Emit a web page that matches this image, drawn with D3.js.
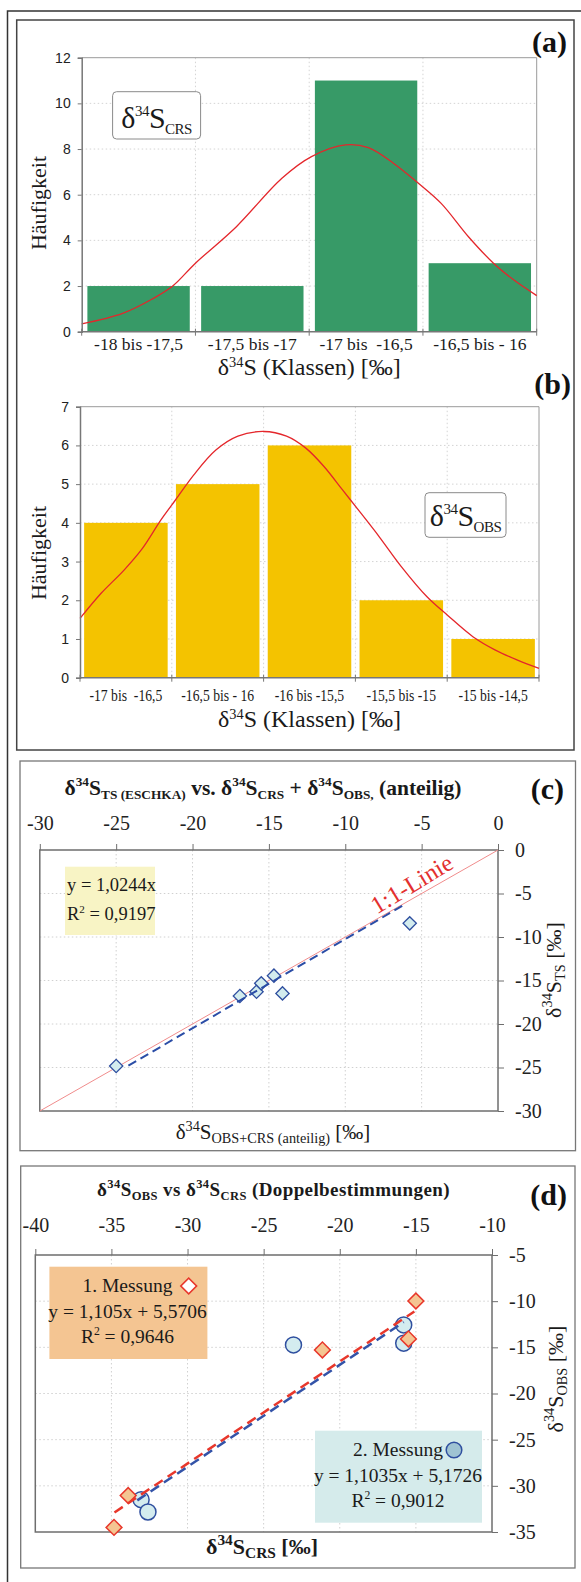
<!DOCTYPE html>
<html>
<head>
<meta charset="utf-8">
<script src="https://cdn.jsdelivr.net/npm/d3@7"></script>
<style>
  body { margin: 0; background: #fff; }
</style>
</head>
<body>
<div id="chart"></div>
<script>
// ---- data ----

// (a) δ34S CRS classes
const classesA = ["-18 bis -17,5", "-17,5 bis -17", "-17 bis  -16,5", "-16,5 bis - 16"];
const edgesA = [-18, -17.5, -17, -16.5, -16];
const countsA = [2, 2, 11, 3];
const curveAx = [-18, -17.82, -17.69, -17.6, -17.5, -17.32, -17.12, -16.99, -16.84, -16.74, -16.63, -16.52, -16.42, -16.3, -16.19, -16.1, -16.0];
const curveAy = [0.34, 0.8, 1.43, 2.0, 3.0, 4.6, 6.72, 7.67, 8.18, 8.06, 7.38, 6.5, 5.62, 4.16, 3.0, 2.26, 1.58];

// (b) δ34S OBS classes
const classesB = ["-17 bis  -16,5", "-16,5 bis - 16", "-16 bis -15,5", "-15,5 bis -15", "-15 bis -14,5"];
const edgesB = [-17, -16.5, -16, -15.5, -15, -14.5];
const countsB = [4, 5, 6, 2, 1];
const curveBx = [-17, -16.885, -16.76, -16.66, -16.56, -16.48, -16.38, -16.26, -16.14, -16.0, -15.875, -15.77, -15.67, -15.57, -15.47, -15.37, -15.25, -15.11, -15.0, -14.86, -14.74, -14.62, -14.5];
const curveBy = [1.53, 2.18, 2.78, 3.34, 4.07, 4.59, 5.24, 5.88, 6.24, 6.36, 6.24, 5.93, 5.45, 4.85, 4.25, 3.64, 2.87, 2.09, 1.62, 1.06, 0.72, 0.46, 0.24];

// (c) TS (ESCHKA) vs OBS+CRS
const ticksC = [-30, -25, -20, -15, -10, -5, 0];
const tsX = [-25.0, -16.9, -15.81, -15.5, -14.67, -14.11, -5.78];
const tsY = [-24.83, -16.78, -16.29, -15.33, -14.44, -16.48, -8.43];
const fitC = { slope: 1.0244, from: -24.2, to: -6.1 };

// (d) OBS vs CRS, double determinations
const ticksDx = [-40, -35, -30, -25, -20, -15, -10];
const ticksDy = [-35, -30, -25, -20, -15, -10, -5];
const m1X = [-15.0, -15.49, -21.14, -33.9, -34.83];
const m1Y = [-9.98, -14.09, -15.28, -31.05, -34.5];
const m2X = [-23.04, -15.8, -15.8, -33.05, -32.6];
const m2Y = [-14.74, -12.57, -14.55, -31.5, -32.83];
const fit1 = { slope: 1.105, intercept: 5.5706, from: -34.8, to: -15.1 };
const fit2 = { slope: 1.1035, intercept: 5.1726, from: -33.3, to: -15.8 };

const serif = "'Liberation Serif', 'Times New Roman', serif";
const sans = "'Liberation Sans', Arial, sans-serif";
const fmt = d => String(d);

const svg = d3.select("#chart").append("svg")
  .attr("width", 581)
  .attr("height", 1582)
  .style("display", "block");

svg.append("rect").attr("width", 581).attr("height", 1582).attr("fill", "#fff");

// text with sub/superscript parts: [text, "n" | "sup" | "sub"]
function rich(g, x, y, parts, o) {
  const size = o.size;
  const t = g.append("text")
    .attr("x", x).attr("y", y)
    .attr("font-family", serif)
    .attr("font-size", size)
    .attr("font-weight", o.weight || "normal")
    .attr("text-anchor", o.anchor || "start")
    .attr("fill", o.fill || "#1a1a1a");
  if (o.rotate) t.attr("transform", `rotate(${o.rotate},${x},${y})`);
  if (o.spacing) t.attr("letter-spacing", o.spacing);
  let shift = 0;
  parts.forEach(([s, k]) => {
    const target = k === "sup" ? -(o.rise || 0.4) * size : k === "sub" ? 0.2 * size : 0;
    const fs = k === "n" ? size : size * (o.small || 0.6);
    t.append("tspan").attr("dy", target - shift).attr("font-size", fs).text(s);
    shift = target;
  });
  return t;
}

// ---- frames ----
svg.append("path")
  .attr("d", "M7.5,1582V11H581")
  .attr("fill", "none").attr("stroke", "#333").attr("stroke-width", 1.5);
svg.append("rect").attr("x", 16.7).attr("y", 20).attr("width", 557.3).attr("height", 730)
  .attr("fill", "none").attr("stroke", "#444").attr("stroke-width", 1.5);
svg.append("rect").attr("x", 20).attr("y", 761).attr("width", 555.5).attr("height", 389.7)
  .attr("fill", "none").attr("stroke", "#777").attr("stroke-width", 1.3);
svg.append("rect").attr("x", 20.7).attr("y", 1166).attr("width", 554.3).attr("height", 402)
  .attr("fill", "none").attr("stroke", "#777").attr("stroke-width", 1.3);

// ---- histograms ----
function histogram(p) {
  const g = svg.append("g");
  const x = d3.scaleBand(p.classes, [p.left, p.right]).paddingInner(p.pad).paddingOuter(p.pad / 2);
  const xd = d3.scaleLinear(d3.extent(p.edges), [p.left, p.right]);
  const y = d3.scaleLinear([0, p.yMax], [p.bottom, p.top]);
  const yTicks = d3.range(0, p.yMax + 0.001, p.yStep);

  // dotted grid
  g.append("g").selectAll("line").data(yTicks.filter(d => d > 0 && d < p.yMax)).join("line")
    .attr("x1", p.left).attr("x2", p.right)
    .attr("y1", d => y(d)).attr("y2", d => y(d))
    .attr("stroke", "#d4d4d4").attr("stroke-dasharray", "1.5,2.5");
  g.append("g").selectAll("line").data(p.edges.slice(1, -1)).join("line")
    .attr("x1", d => xd(d)).attr("x2", d => xd(d))
    .attr("y1", p.top).attr("y2", p.bottom)
    .attr("stroke", "#d4d4d4").attr("stroke-dasharray", "1.5,2.5");

  // frame top and right
  g.append("path")
    .attr("d", `M${p.left},${p.top}H${p.right}V${p.bottom}`)
    .attr("fill", "none").attr("stroke", "#9a9a9a").attr("stroke-width", 1);

  g.append("g").selectAll("rect").data(p.counts).join("rect")
    .attr("x", (d, i) => x(p.classes[i]))
    .attr("width", x.bandwidth())
    .attr("y", d => y(d))
    .attr("height", d => y(0) - y(d))
    .attr("fill", p.color);

  const line = d3.line()
    .x(d => xd(d[0]))
    .y(d => y(d[1]))
    .curve(d3.curveCatmullRom);
  g.append("path")
    .datum(d3.zip(p.cx, p.cy))
    .attr("d", line)
    .attr("fill", "none").attr("stroke", "#e4262b").attr("stroke-width", 1.3);

  // y axis
  const ya = g.append("g")
    .attr("transform", `translate(${p.left},0)`)
    .call(d3.axisLeft(y).tickValues(yTicks).tickSize(4).tickPadding(7).tickFormat(fmt));
  ya.select(".domain").attr("stroke", "#777").attr("stroke-width", 1.5);
  ya.selectAll(".tick line").attr("stroke", "#777");
  ya.selectAll("text").attr("font-family", sans).attr("font-size", 14).attr("fill", "#222");

  // x axis: boundary ticks, class labels
  g.append("line").attr("x1", p.left).attr("x2", p.right)
    .attr("y1", p.bottom).attr("y2", p.bottom)
    .attr("stroke", "#777").attr("stroke-width", 1.5);
  g.append("g").selectAll("line").data(p.edges).join("line")
    .attr("x1", d => xd(d)).attr("x2", d => xd(d))
    .attr("y1", p.bottom - 3).attr("y2", p.bottom + 4)
    .attr("stroke", "#777");
  const labels = g.append("g").selectAll("text").data(p.classes).join("text")
    .attr("x", d => x(d) + x.bandwidth() / 2)
    .attr("y", p.labelY)
    .attr("text-anchor", "middle")
    .attr("font-family", serif)
    .attr("font-size", p.labelSize)
    .attr("fill", "#1a1a1a")
    .style("white-space", "pre")
    .text(d => d);
  if (p.labelSqueeze) {
    labels.each(function () {
      const w = this.getComputedTextLength();
      d3.select(this).attr("textLength", w * p.labelSqueeze).attr("lengthAdjust", "spacingAndGlyphs");
    });
  }

  rich(g, (p.left + p.right) / 2, p.titleY, [["δ", "n"], ["34", "sup"], ["S (Klassen) [‰]", "n"]], { size: 24, anchor: "middle", rise: 0.33 });

  g.append("text")
    .attr("transform", `translate(${p.yLabelX},${p.yLabelY}) rotate(-90)`)
    .attr("text-anchor", "middle")
    .attr("font-family", serif)
    .attr("font-size", 22)
    .attr("fill", "#1a1a1a")
    .text("Häufigkeit");

  const L = p.legend;
  g.append("rect").attr("x", L.x).attr("y", L.y).attr("width", L.w).attr("height", L.h)
    .attr("rx", 4).attr("fill", "#fff").attr("stroke", "#8a8a8a").attr("stroke-width", 1);
  rich(g, L.x + L.w / 2, L.y + L.h - 11, [["δ", "n"], ["34", "sup"], ["S", "n"], [L.sub, "sub"]], { size: 30, anchor: "middle", small: 0.5, spacing: -0.5 });
}

histogram({
  classes: classesA, edges: edgesA, counts: countsA, cx: curveAx, cy: curveAy,
  left: 81.7, right: 536.7, top: 57.7, bottom: 331.7, yMax: 12, yStep: 2,
  pad: 0.1, color: "#379a67", labelY: 350, labelSize: 17.5, titleY: 375,
  yLabelX: 46, yLabelY: 203,
  legend: { x: 112.6, y: 91.7, w: 88, h: 47.3, sub: "CRS" }
});

histogram({
  classes: classesB, edges: edgesB, counts: countsB, cx: curveBx, cy: curveBy,
  left: 80, right: 539, top: 406.7, bottom: 677.7, yMax: 7, yStep: 1,
  pad: 0.09, color: "#f4c300", labelY: 701, labelSize: 17.5, labelSqueeze: 0.78, titleY: 727,
  yLabelX: 46, yLabelY: 553,
  legend: { x: 425, y: 492.7, w: 81, h: 44.6, sub: "OBS" }
});

// ---- scatter panels ----
function frameAxes(g, x, y, xt, yt, topPad, rightPad) {
  g.append("g").selectAll("line").data(xt.slice(1, -1)).join("line")
    .attr("x1", d => x(d)).attr("x2", d => x(d))
    .attr("y1", y.range()[1]).attr("y2", y.range()[0])
    .attr("stroke", "#d0d0d0").attr("stroke-dasharray", "1.5,2.5");
  g.append("g").selectAll("line").data(yt.slice(1, -1)).join("line")
    .attr("x1", x.range()[0]).attr("x2", x.range()[1])
    .attr("y1", d => y(d)).attr("y2", d => y(d))
    .attr("stroke", "#d0d0d0").attr("stroke-dasharray", "1.5,2.5");
  g.append("rect")
    .attr("x", x.range()[0]).attr("y", y.range()[1])
    .attr("width", x.range()[1] - x.range()[0])
    .attr("height", y.range()[0] - y.range()[1])
    .attr("fill", "none").attr("stroke", "#6e6e6e").attr("stroke-width", 1.5);
  const ax = g.append("g").attr("transform", `translate(0,${y.range()[1]})`)
    .call(d3.axisTop(x).tickValues(xt).tickSize(6).tickPadding(topPad).tickFormat(fmt));
  const ay = g.append("g").attr("transform", `translate(${x.range()[1]},0)`)
    .call(d3.axisRight(y).tickValues(yt).tickSize(6).tickPadding(rightPad).tickFormat(fmt));
  [ax, ay].forEach(a => {
    a.select(".domain").remove();
    a.selectAll(".tick line").attr("stroke", "#6e6e6e");
    a.selectAll("text").attr("font-family", serif).attr("font-size", 20).attr("fill", "#222");
  });
}

// (c)
{
  const g = svg.append("g");
  const x = d3.scaleLinear([-30, 0], [39.8, 498]);
  const y = d3.scaleLinear([-30, 0], [1111, 850]);
  frameAxes(g, x, y, ticksC, ticksC, 14, 11);

  g.append("rect").attr("x", 65).attr("y", 866.7).attr("width", 90).attr("height", 68.3).attr("fill", "#f8f4c5");
  rich(g, 67, 891, [["y = 1,0244x", "n"]], { size: 18.5 });
  rich(g, 67, 920, [["R", "n"], ["2", "sup"], [" = 0,9197", "n"]], { size: 18.5 });

  g.append("line")
    .attr("x1", x(-30)).attr("y1", y(-30)).attr("x2", x(0)).attr("y2", y(0))
    .attr("stroke", "#f08c8c").attr("stroke-width", 1);

  g.append("g").selectAll("path").data(d3.zip(tsX, tsY)).join("path")
    .attr("transform", d => `translate(${x(d[0])},${y(d[1])}) rotate(45)`)
    .attr("d", d3.symbol(d3.symbolSquare, 88))
    .attr("fill", "#d3ecee").attr("stroke", "#2f4f9f").attr("stroke-width", 1.3);

  g.append("path")
    .datum([fitC.from, fitC.to])
    .attr("d", d3.line().x(d => x(d)).y(d => y(fitC.slope * d)))
    .attr("stroke", "#2b4da6").attr("stroke-width", 2).attr("stroke-dasharray", "9,5").attr("fill", "none");

  const ang = Math.atan2(y(0) - y(-30), x(0) - x(-30)) * 180 / Math.PI;
  const px = x(-5.2), py = y(-5.2);
  g.append("text")
    .attr("transform", `translate(${px},${py}) rotate(${ang - 1.5})`)
    .attr("y", -5)
    .attr("text-anchor", "middle")
    .attr("font-family", serif).attr("font-size", 24.5).attr("fill", "#e3302f")
    .text("1:1-Linie");

  rich(g, 263, 795, [["δ", "n"], ["34", "sup"], ["S", "n"], ["TS (ESCHKA)", "sub"], [" vs. δ", "n"], ["34", "sup"], ["S", "n"], ["CRS", "sub"], [" + δ", "n"], ["34", "sup"], ["S", "n"], ["OBS,", "sub"], [" (anteilig)", "n"]],
    { size: 21.5, weight: "bold", anchor: "middle", small: 0.62 });
  rich(g, 273, 1139, [["δ", "n"], ["34", "sup"], ["S", "n"], ["OBS+CRS (anteilig)", "sub"], [" [‰]", "n"]], { size: 21, anchor: "middle", small: 0.68 });
  rich(g, 561, 970, [["δ", "n"], ["34", "sup"], ["S", "n"], ["TS", "sub"], [" [‰]", "n"]], { size: 22, anchor: "middle", rotate: -90, small: 0.65 });
}

// (d)
{
  const g = svg.append("g");
  const x = d3.scaleLinear([-40, -10], [35.3, 492]);
  const y = d3.scaleLinear([-35, -5], [1532, 1255]);
  frameAxes(g, x, y, ticksDx, ticksDy, 17, 11);

  g.append("rect").attr("x", 49.4).attr("y", 1266.7).attr("width", 158).attr("height", 92.3).attr("fill", "#f4c592");
  rich(g, 127.5, 1292, [["1. Messung", "n"]], { size: 19.5, anchor: "middle" });
  rich(g, 127.5, 1317.5, [["y = 1,105x + 5,5706", "n"]], { size: 19.5, anchor: "middle" });
  rich(g, 127.5, 1343, [["R", "n"], ["2", "sup"], [" = 0,9646", "n"]], { size: 19.5, anchor: "middle" });

  g.append("rect").attr("x", 315).attr("y", 1430.7).attr("width", 167).attr("height", 92).attr("fill", "#d5ebeb");
  rich(g, 398, 1456, [["2. Messung", "n"]], { size: 19.5, anchor: "middle" });
  rich(g, 398, 1481.5, [["y = 1,1035x + 5,1726", "n"]], { size: 19.5, anchor: "middle" });
  rich(g, 398, 1507, [["R", "n"], ["2", "sup"], [" = 0,9012", "n"]], { size: 19.5, anchor: "middle" });

  const diamond = d3.symbol(d3.symbolSquare, 125);
  g.append("path").attr("d", diamond).attr("transform", "translate(188.7,1286) rotate(45)")
    .attr("fill", "#fff").attr("stroke", "#e8372b").attr("stroke-width", 1.6);
  g.append("circle").attr("cx", 454).attr("cy", 1450).attr("r", 7.8)
    .attr("fill", "#9fc3d2").attr("stroke", "#2f4f9f").attr("stroke-width", 1.5);

  g.append("g").selectAll("circle").data(d3.zip(m2X, m2Y)).join("circle")
    .attr("cx", d => x(d[0])).attr("cy", d => y(d[1])).attr("r", 8)
    .attr("fill", "#d4ecef").attr("stroke", "#2f4f9f").attr("stroke-width", 1.5);
  g.append("g").selectAll("path").data(d3.zip(m1X, m1Y)).join("path")
    .attr("transform", d => `translate(${x(d[0])},${y(d[1])}) rotate(45)`)
    .attr("d", diamond)
    .attr("fill", "#f4c592").attr("stroke", "#e8372b").attr("stroke-width", 1.5);

  [[fit2, "#3353a8"], [fit1, "#e8372b"]].forEach(([f, c]) => {
    g.append("path")
      .datum([f.from, f.to])
      .attr("d", d3.line().x(d => x(d)).y(d => y(f.slope * d + f.intercept)))
      .attr("stroke", c).attr("stroke-width", 2.5).attr("stroke-dasharray", "10,6").attr("fill", "none");
  });

  rich(g, 273.5, 1196, [["δ", "n"], ["34", "sup"], ["S", "n"], ["OBS", "sub"], [" vs δ", "n"], ["34", "sup"], ["S", "n"], ["CRS", "sub"], [" (Doppelbestimmungen)", "n"]],
    { size: 19, weight: "bold", anchor: "middle", small: 0.66, spacing: 0.4 });
  rich(g, 262, 1554, [["δ", "n"], ["34", "sup"], ["S", "n"], ["CRS", "sub"], [" [‰]", "n"]], { size: 22, weight: "bold", anchor: "middle", small: 0.7 });
  rich(g, 563, 1379, [["δ", "n"], ["34", "sup"], ["S", "n"], ["OBS", "sub"], [" [‰]", "n"]], { size: 22, anchor: "middle", rotate: -90, small: 0.65 });
}

// panel letters
[["(a)", 567, 52], ["(b)", 571, 394], ["(c)", 564, 799], ["(d)", 567, 1205]].forEach(([s, x, y]) => {
  svg.append("text").attr("x", x).attr("y", y).attr("text-anchor", "end")
    .attr("font-family", serif).attr("font-weight", "bold").attr("font-size", 30).attr("fill", "#111")
    .text(s);
});
</script>
</body>
</html>
